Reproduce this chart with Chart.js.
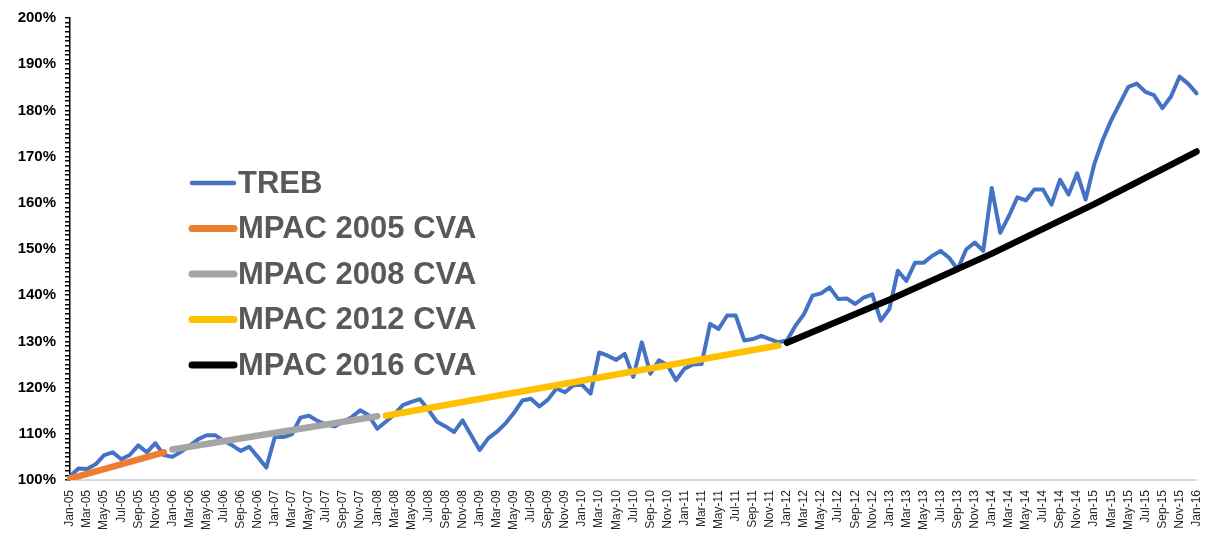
<!DOCTYPE html>
<html lang="en">
<head>
<meta charset="UTF-8">
<title>TREB vs MPAC CVA</title>
<script src="https://cdn.jsdelivr.net/npm/chart.js@4.4.0/dist/chart.umd.min.js"></script>
<style>
  html, body { margin: 0; padding: 0; background: #fff; }
</style>
</head>
<body>
<canvas id="chart" width="1213" height="533"></canvas>
<script>
// month labels Jan-05 .. Jan-16
const monthNames = ["Jan","Feb","Mar","Apr","May","Jun","Jul","Aug","Sep","Oct","Nov","Dec"];
const months = [];
for (let yr = 5; yr <= 16; yr++) {
    for (let m = 0; m < 12; m++) {
        if (yr === 16 && m > 0) break;
        months.push(monthNames[m] + "-" + String(yr).padStart(2, "0"));
    }
}

// TREB index (%), one value per month
const treb = [
    100.8, 102.5, 102.4, 103.4, 105.4, 106.0, 104.5, 105.4, 107.5, 106.0,
    108.0, 105.4, 105.0, 106.1, 107.4, 108.8, 109.7, 109.7, 108.5, 107.5,
    106.3, 107.2, 105.0, 102.7, 109.3, 109.3, 109.9, 113.5, 113.9, 112.8,
    112.0, 111.6, 112.6, 113.6, 115.1, 114.0, 111.1, 112.6, 114.2, 116.2,
    116.9, 117.5, 115.2, 112.6, 111.6, 110.4, 112.9, 109.7, 106.5, 109.0,
    110.4, 112.2, 114.5, 117.2, 117.6, 115.9, 117.4, 119.8, 119.0, 120.5,
    120.6, 118.7, 127.6, 126.9, 126.0, 127.3, 122.3, 129.8, 123.0, 125.9,
    124.9, 121.6, 124.1, 125.0, 125.1, 133.8, 132.7, 135.6, 135.6, 130.2,
    130.5, 131.2, 130.5, 129.8, 130.2, 133.4, 135.9, 139.9, 140.4, 141.7,
    139.2, 139.3, 138.1, 139.5, 140.2, 134.5, 137.0, 145.3, 143.1, 147.0,
    147.0, 148.5, 149.6, 148.1, 145.6, 149.9, 151.4, 149.6, 163.2, 153.5,
    157.1, 161.2, 160.5, 162.9, 162.9, 159.6, 165.0, 161.8, 166.4, 160.7,
    168.3, 173.6, 177.9, 181.5, 185.1, 185.8, 184.0, 183.3, 180.5, 183.0,
    187.3, 185.8, 183.7
];

// MPAC CVA trend lines: [month, value %]
const mpac2005 = [["Jan-05", 100.3], ["Dec-05", 106.0]];
const mpac2008 = [["Jan-06", 106.6], ["Jan-08", 113.8]];
const mpac2012 = [["Feb-08", 113.9], ["Dec-11", 129.1]];
const mpac2016 = [["Jan-12", 129.7], ["Jan-13", 139.0], ["Jan-14", 149.0], ["Jan-15", 159.7], ["Jan-16", 171.1]];

const yMajor = [100, 110, 120, 130, 140, 150, 160, 170, 180, 190, 200];

const toPts = arr => arr.map(p => ({ x: p[0], y: p[1] }));
const FONT = '"Liberation Sans", Arial, sans-serif';

// legend drawn inside the plot, like the original
const insideLegend = {
    id: "insideLegend",
    afterDatasetsDraw(chart, args, opts) {
        const ctx = chart.ctx;
        ctx.save();
        ctx.font = "bold 31px " + FONT;
        ctx.textBaseline = "middle";
        chart.data.datasets.forEach((ds, i) => {
            const y = opts.top + i * opts.spacing;
            ctx.strokeStyle = ds.borderColor;
            ctx.lineWidth = ds.legendWidth;
            ctx.lineCap = "round";
            ctx.beginPath();
            ctx.moveTo(opts.left, y);
            ctx.lineTo(opts.left + opts.lineLen, y);
            ctx.stroke();
            ctx.fillStyle = "#595959";
            ctx.fillText(ds.label, opts.left + opts.lineLen + opts.gap, y + 1);
        });
        ctx.restore();
    }
};

new Chart(document.getElementById("chart"), {
    type: "line",
    data: {
        labels: months,
        datasets: [
            { label: "TREB", data: treb, borderColor: "#4472C4", borderWidth: 4, legendWidth: 4.5, order: 1 },
            { label: "MPAC 2005 CVA", data: toPts(mpac2005), borderColor: "#ED7D31", borderWidth: 6.5, legendWidth: 7, order: 0 },
            { label: "MPAC 2008 CVA", data: toPts(mpac2008), borderColor: "#A5A5A5", borderWidth: 6.5, legendWidth: 7, order: 0 },
            { label: "MPAC 2012 CVA", data: toPts(mpac2012), borderColor: "#FFC000", borderWidth: 6.5, legendWidth: 7, order: 0 },
            { label: "MPAC 2016 CVA", data: toPts(mpac2016), borderColor: "#000000", borderWidth: 6.5, legendWidth: 7, order: 0 }
        ]
    },
    options: {
        responsive: false,
        animation: false,
        devicePixelRatio: 1,
        layout: { padding: { top: 17, right: 15, left: 0, bottom: 0 } },
        elements: {
            point: { radius: 0, hoverRadius: 0 },
            line: { tension: 0, borderCapStyle: "round", borderJoinStyle: "round", fill: false }
        },
        plugins: {
            legend: { display: false },
            tooltip: { enabled: false },
            insideLegend: { left: 192, top: 183, spacing: 45.5, lineLen: 42, gap: 4 }
        },
        scales: {
            x: {
                type: "category",
                offset: false,
                grid: { display: false },
                border: { color: "#D9D9D9", width: 2 },
                ticks: {
                    autoSkip: false,
                    minRotation: 90,
                    maxRotation: 90,
                    padding: 2,
                    color: "#262626",
                    font: { family: FONT, size: 12 },
                    callback: (v, i) => (i % 2 === 0 ? months[i] : "")
                },
                afterFit: s => { s.height = 53; }
            },
            y: {
                min: 100,
                max: 200,
                grid: { display: true, drawOnChartArea: false, drawTicks: true, tickLength: 5, color: "#000", lineWidth: 1.5 },
                border: { color: "#000", width: 1.5 },
                ticks: {
                    stepSize: 1,
                    autoSkip: false,
                    padding: 9,
                    color: "#000",
                    font: { family: FONT, size: 15, weight: "bold" },
                    callback: v => (yMajor.includes(v) ? v + "%" : "")
                },
                afterFit: s => { s.width = 70; }
            }
        }
    },
    plugins: [insideLegend]
});
</script>
</body>
</html>
